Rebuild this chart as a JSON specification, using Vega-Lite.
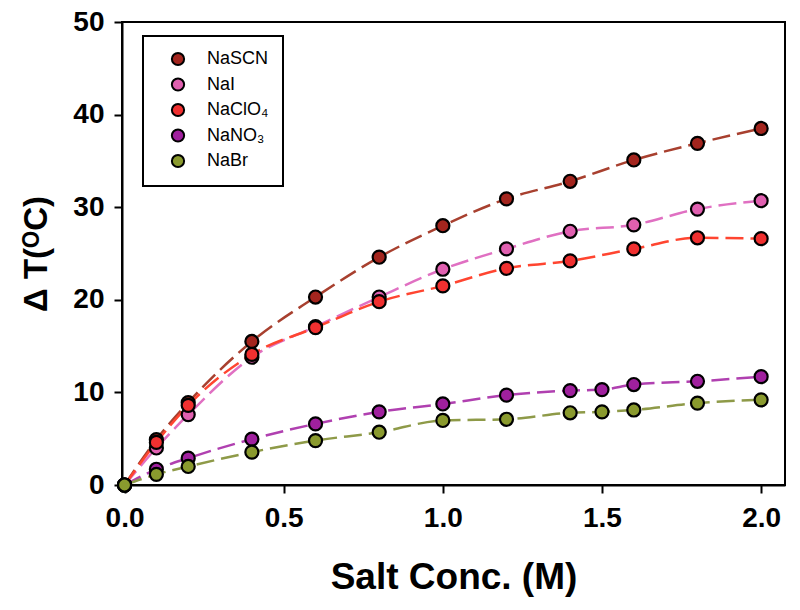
{
  "$schema": "https://vega.github.io/schema/vega-lite/v6.json",
  "width": 663,
  "height": 463,
  "autosize": {"type": "none"},
  "padding": {"left": 122, "top": 22, "right": 15, "bottom": 125},
  "background": "white",
  "config": {
    "font": "Liberation Sans",
    "view": {"stroke": "black", "strokeWidth": 2},
    "legend": {"strokeWidth": 2},
    "axis": {
      "grid": false,
      "domainColor": "black",
      "domainWidth": 2,
      "tickColor": "black",
      "tickWidth": 2,
      "tickSize": 8,
      "labelColor": "black",
      "titleColor": "black"
    }
  },
  "data": {
    "values": [
      {"salt": "NaSCN", "conc": 0, "dT": 0},
      {"salt": "NaSCN", "conc": 0.1, "dT": 4.9},
      {"salt": "NaSCN", "conc": 0.2, "dT": 8.9},
      {"salt": "NaSCN", "conc": 0.4, "dT": 15.5},
      {"salt": "NaSCN", "conc": 0.6, "dT": 20.3},
      {"salt": "NaSCN", "conc": 0.8, "dT": 24.6},
      {"salt": "NaSCN", "conc": 1.0, "dT": 28.0},
      {"salt": "NaSCN", "conc": 1.2, "dT": 30.9},
      {"salt": "NaSCN", "conc": 1.4, "dT": 32.8},
      {"salt": "NaSCN", "conc": 1.6, "dT": 35.1},
      {"salt": "NaSCN", "conc": 1.8, "dT": 36.9},
      {"salt": "NaSCN", "conc": 2.0, "dT": 38.5},
      {"salt": "NaI", "conc": 0, "dT": 0},
      {"salt": "NaI", "conc": 0.1, "dT": 4.0},
      {"salt": "NaI", "conc": 0.2, "dT": 7.6},
      {"salt": "NaI", "conc": 0.4, "dT": 13.8},
      {"salt": "NaI", "conc": 0.6, "dT": 17.1},
      {"salt": "NaI", "conc": 0.8, "dT": 20.3},
      {"salt": "NaI", "conc": 1.0, "dT": 23.3},
      {"salt": "NaI", "conc": 1.2, "dT": 25.5},
      {"salt": "NaI", "conc": 1.4, "dT": 27.4},
      {"salt": "NaI", "conc": 1.6, "dT": 28.1},
      {"salt": "NaI", "conc": 1.8, "dT": 29.8},
      {"salt": "NaI", "conc": 2.0, "dT": 30.7},
      {"salt": "NaClO₄", "conc": 0, "dT": 0},
      {"salt": "NaClO₄", "conc": 0.1, "dT": 4.6},
      {"salt": "NaClO₄", "conc": 0.2, "dT": 8.6},
      {"salt": "NaClO₄", "conc": 0.4, "dT": 14.1},
      {"salt": "NaClO₄", "conc": 0.6, "dT": 17.0},
      {"salt": "NaClO₄", "conc": 0.8, "dT": 19.8},
      {"salt": "NaClO₄", "conc": 1.0, "dT": 21.5},
      {"salt": "NaClO₄", "conc": 1.2, "dT": 23.4},
      {"salt": "NaClO₄", "conc": 1.4, "dT": 24.2},
      {"salt": "NaClO₄", "conc": 1.6, "dT": 25.5},
      {"salt": "NaClO₄", "conc": 1.8, "dT": 26.7},
      {"salt": "NaClO₄", "conc": 2.0, "dT": 26.6},
      {"salt": "NaNO₃", "conc": 0, "dT": 0},
      {"salt": "NaNO₃", "conc": 0.1, "dT": 1.7},
      {"salt": "NaNO₃", "conc": 0.2, "dT": 2.9},
      {"salt": "NaNO₃", "conc": 0.4, "dT": 4.95},
      {"salt": "NaNO₃", "conc": 0.6, "dT": 6.6},
      {"salt": "NaNO₃", "conc": 0.8, "dT": 7.9},
      {"salt": "NaNO₃", "conc": 1.0, "dT": 8.75},
      {"salt": "NaNO₃", "conc": 1.2, "dT": 9.7},
      {"salt": "NaNO₃", "conc": 1.4, "dT": 10.2},
      {"salt": "NaNO₃", "conc": 1.5, "dT": 10.3},
      {"salt": "NaNO₃", "conc": 1.6, "dT": 10.85},
      {"salt": "NaNO₃", "conc": 1.8, "dT": 11.2},
      {"salt": "NaNO₃", "conc": 2.0, "dT": 11.7},
      {"salt": "NaBr", "conc": 0, "dT": 0},
      {"salt": "NaBr", "conc": 0.1, "dT": 1.15},
      {"salt": "NaBr", "conc": 0.2, "dT": 2.0},
      {"salt": "NaBr", "conc": 0.4, "dT": 3.55},
      {"salt": "NaBr", "conc": 0.6, "dT": 4.8},
      {"salt": "NaBr", "conc": 0.8, "dT": 5.7},
      {"salt": "NaBr", "conc": 1.0, "dT": 6.97},
      {"salt": "NaBr", "conc": 1.2, "dT": 7.1},
      {"salt": "NaBr", "conc": 1.4, "dT": 7.8},
      {"salt": "NaBr", "conc": 1.5, "dT": 7.9},
      {"salt": "NaBr", "conc": 1.6, "dT": 8.1},
      {"salt": "NaBr", "conc": 1.8, "dT": 8.85},
      {"salt": "NaBr", "conc": 2.0, "dT": 9.2}
    ]
  },
  "encoding": {
    "x": {
      "field": "conc",
      "type": "quantitative",
      "scale": {"domain": [-0.008, 2.075], "nice": false, "zero": false},
      "axis": {
        "values": [0, 0.5, 1.0, 1.5, 2.0],
        "format": ".1f",
        "title": "Salt Conc. (M)",
        "titleFont": "Liberation Sans",
        "titleFontWeight": "bold",
        "titleFontSize": 37,
        "labelFont": "Liberation Sans",
        "labelFontWeight": "bold",
        "labelFontSize": 28,
        "labelPadding": 11,
        "titlePadding": 27,
        "labelFlush": false
      }
    },
    "y": {
      "field": "dT",
      "type": "quantitative",
      "scale": {"domain": [0, 50], "nice": false},
      "axis": {
        "values": [0, 10, 20, 30, 40, 50],
        "title": "Δ T(ᴼC)",
        "titleFont": "Liberation Sans",
        "titleFontWeight": "bold",
        "titleFontSize": 33,
        "labelFont": "Liberation Sans",
        "labelFontWeight": "bold",
        "labelFontSize": 28,
        "labelPadding": 10,
        "titlePadding": 19,
        "labelFlush": false
      }
    }
  },
  "layer": [
    {
      "mark": {"type": "line", "interpolate": "monotone", "strokeWidth": 2.5, "strokeDash": [18, 7]},
      "encoding": {
        "stroke": {
          "field": "salt",
          "type": "nominal",
          "scale": {
            "domain": ["NaBr", "NaNO₃", "NaClO₄", "NaI", "NaSCN"],
            "range": ["#8E9A48", "#B040B0", "#FF4530", "#E070C2", "#A8402F"]
          },
          "legend": null
        }
      }
    },
    {
      "mark": {"type": "point", "shape": "circle", "filled": true, "size": 170, "stroke": "black", "strokeWidth": 2.2, "opacity": 1},
      "encoding": {
        "fill": {
          "field": "salt",
          "type": "nominal",
          "scale": {
            "domain": ["NaSCN", "NaI", "NaClO₄", "NaNO₃", "NaBr"],
            "range": ["#A3251E", "#E060B0", "#F03030", "#A0209E", "#8A9A2E"]
          },
          "legend": {
            "title": null,
            "orient": "none",
            "legendX": 21,
            "legendY": 14,
            "padding": 14,
            "strokeColor": "black",
            "fillColor": "white",
            "symbolType": "circle",
            "symbolSize": 150,
            "symbolStrokeColor": "black",
            "symbolStrokeWidth": 2,
            "symbolOffset": 12,
            "labelOffset": 20,
            "labelFontSize": 18,
            "labelFont": "Liberation Sans",
            "labelColor": "black",
            "rowPadding": 3.5
          }
        }
      }
    }
  ]
}
